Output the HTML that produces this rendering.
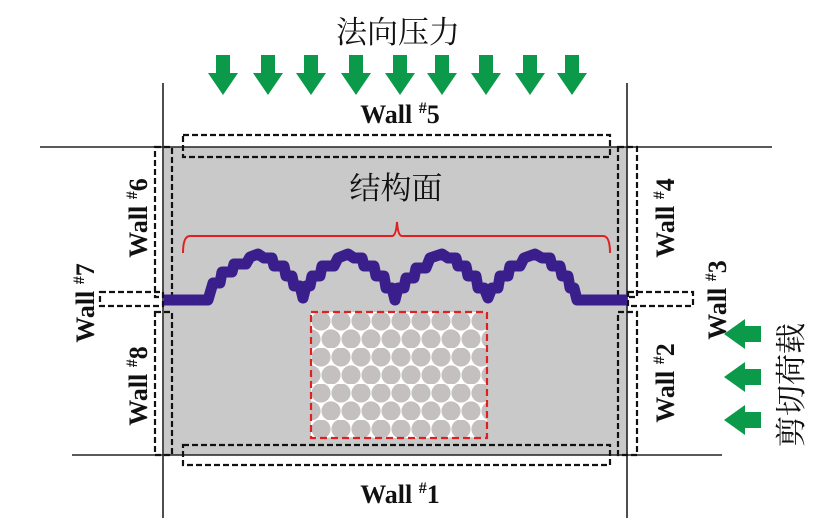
<!DOCTYPE html>
<html><head><meta charset="utf-8"><style>
html,body{margin:0;padding:0;background:#fff;}
svg{display:block;}
.w{font-family:"Liberation Serif",serif;font-weight:bold;font-size:26px;fill:#111;}
.c{font-family:"Liberation Serif","Noto Serif CJK SC",serif;font-size:31px;fill:#111;}
</style></head><body>
<svg width="826" height="527" viewBox="0 0 826 527" xmlns="http://www.w3.org/2000/svg">
<defs>
<pattern id="pp" width="40" height="36" patternUnits="userSpaceOnUse" x="311" y="312">
<circle cx="10" cy="9" r="9.6" fill="#c4c0c0"/><circle cx="30" cy="9" r="9.6" fill="#c4c0c0"/>
<circle cx="0" cy="27" r="9.6" fill="#c4c0c0"/><circle cx="20" cy="27" r="9.6" fill="#c4c0c0"/><circle cx="40" cy="27" r="9.6" fill="#c4c0c0"/>
</pattern>
<g id="ad"><polygon points="-7,0 7,0 7,18 15,18 0,40 -15,18 -7,18" fill="#0a9a4a"/></g>
<g id="al"><polygon points="0,0 21,-15 21,-8 37,-8 37,8 21,8 21,15" fill="#0a9a4a"/></g>
</defs>
<rect x="164" y="147" width="463" height="308" fill="#c9c9c9"/>
<g stroke="#222" stroke-width="1.6">
<line x1="163" y1="83" x2="163" y2="518"/>
<line x1="627" y1="83" x2="627" y2="518"/>
<line x1="40" y1="147" x2="772" y2="147"/>
<line x1="72" y1="455" x2="722" y2="455"/>
</g>
<g fill="none" stroke="#111" stroke-width="2.2" stroke-dasharray="6,3">
<rect x="183" y="135" width="427" height="22"/>
<rect x="183" y="445" width="427" height="20"/>
<rect x="155" y="147" width="17" height="150"/>
<rect x="155" y="312" width="17" height="143"/>
<rect x="618" y="147" width="19" height="150"/>
<rect x="618" y="312" width="19" height="143"/>
<rect x="100" y="292" width="63" height="14"/>
<rect x="628" y="292" width="65" height="14"/>
</g>
<rect x="311" y="312" width="176" height="126" fill="#fff"/>
<rect x="311" y="312" width="176" height="126" fill="url(#pp)"/>
<rect x="311" y="312" width="176" height="126" fill="none" stroke="#e02020" stroke-width="2.2" stroke-dasharray="7,4"/>
<path d="M183,253 Q183,236 190,236 L392,236 Q396,236 397,222 Q398,236 402,236 L603,236 Q610,236 610,253" fill="none" stroke="#e02020" stroke-width="2"/>
<polyline fill="none" stroke="#3a1f8c" stroke-width="11" stroke-linejoin="round" points="
164,300 208,300 213,283 220,283 222,272 232,272 234,264 246,264 250,257 258,254 264,258 272,258 274,266 284,266 286,276 292,276 294,286 300,286 303,298 306,286 310,286 312,276 320,276 322,266 334,266 338,258 348,254 354,258 362,258 364,266 374,266 376,276 384,276 386,288 392,288 395,300 398,288 404,288 406,278 414,278 416,268 426,268 430,258 442,254 448,258 456,258 458,266 466,266 468,276 476,276 478,288 484,288 488,298 492,288 498,288 500,276 508,276 510,266 520,266 524,258 535,254 542,258 550,258 552,266 560,266 562,276 568,276 570,288 574,288 577,300 627,300"/>
<g>
<use href="#ad" x="223" y="55"/><use href="#ad" x="268" y="55"/><use href="#ad" x="311" y="55"/>
<use href="#ad" x="356" y="55"/><use href="#ad" x="400" y="55"/><use href="#ad" x="442" y="55"/>
<use href="#ad" x="486" y="55"/><use href="#ad" x="530" y="55"/><use href="#ad" x="572" y="55"/>
</g>
<use href="#al" x="724" y="334"/><use href="#al" x="724" y="377"/><use href="#al" x="724" y="420"/>
<text class="c" x="398" y="43" text-anchor="middle">法向压力</text>
<text class="c" x="396" y="199" text-anchor="middle">结构面</text>
<text class="w" x="400" y="123" text-anchor="middle">Wall <tspan font-size="16" dy="-10">#</tspan><tspan dy="10">5</tspan></text>
<text class="w" x="400" y="503" text-anchor="middle">Wall <tspan font-size="16" dy="-10">#</tspan><tspan dy="10">1</tspan></text>
<text class="w" transform="translate(147,218) rotate(-90)" text-anchor="middle">Wall <tspan font-size="16" dy="-10">#</tspan><tspan dy="10">6</tspan></text>
<text class="w" transform="translate(147,386) rotate(-90)" text-anchor="middle">Wall <tspan font-size="16" dy="-10">#</tspan><tspan dy="10">8</tspan></text>
<text class="w" transform="translate(94,303) rotate(-90)" text-anchor="middle">Wall <tspan font-size="16" dy="-10">#</tspan><tspan dy="10">7</tspan></text>
<text class="w" transform="translate(674,218) rotate(-90)" text-anchor="middle">Wall <tspan font-size="16" dy="-10">#</tspan><tspan dy="10">4</tspan></text>
<text class="w" transform="translate(674,383) rotate(-90)" text-anchor="middle">Wall <tspan font-size="16" dy="-10">#</tspan><tspan dy="10">2</tspan></text>
<text class="w" transform="translate(726,300) rotate(-90)" text-anchor="middle">Wall <tspan font-size="16" dy="-10">#</tspan><tspan dy="10">3</tspan></text>
<text class="c" transform="translate(802,385) rotate(-90)" text-anchor="middle" font-size="28">剪切荷载</text>
</svg>
</body></html>
